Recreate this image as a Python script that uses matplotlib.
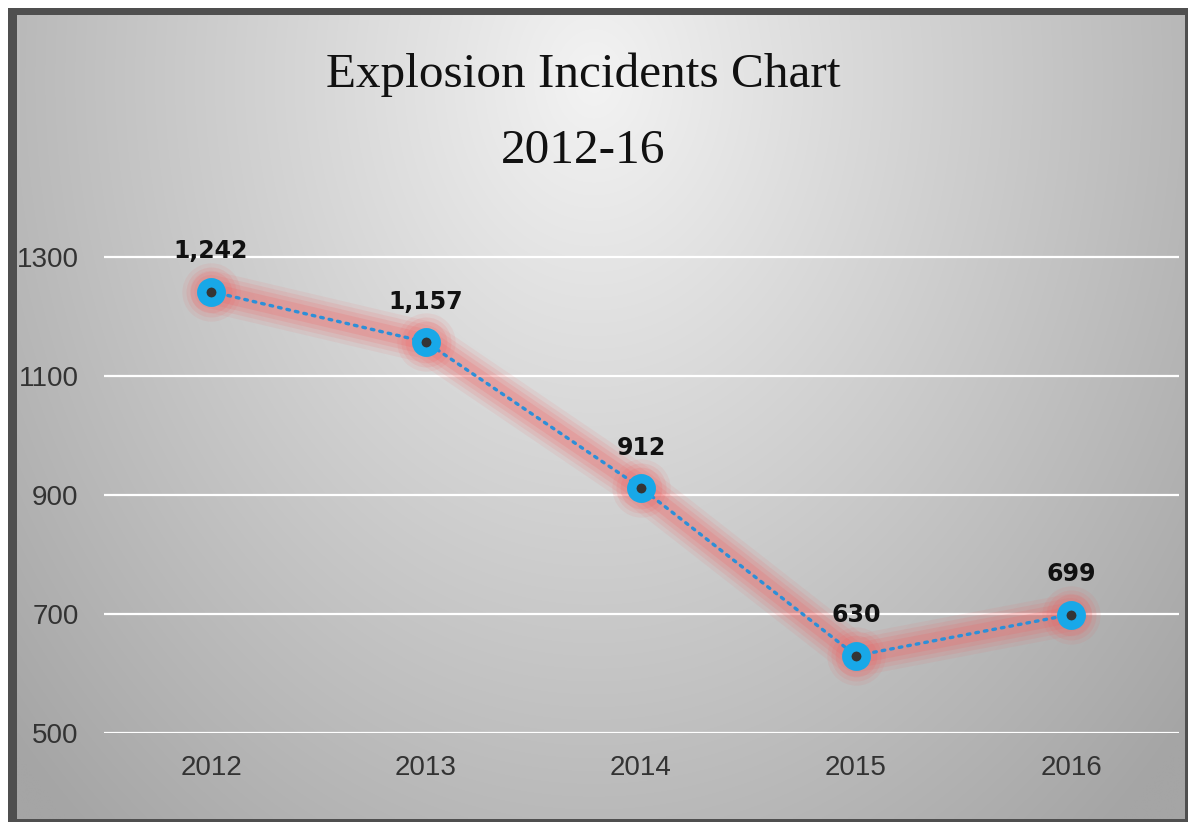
import numpy as np
import matplotlib

matplotlib.use("Agg")
import matplotlib.pyplot as plt
from matplotlib.patches import Rectangle

# chart data
years = ["2012", "2013", "2014", "2015", "2016"]
incidents = [1242, 1157, 912, 630, 699]
y_ticks = [500, 700, 900, 1100, 1300]
title_lines = ["Explosion Incidents Chart", "2012-16"]

W, H = 1188, 822
DPI = 100


def draw_background(fig):
    bg = fig.add_axes([0, 0, 1, 1], zorder=-5)
    # dark frame round the chart, with a little white outside it
    bg.add_patch(Rectangle((8, 8), W - 8, H - 8, facecolor="#4f4f4f",
                           edgecolor="none", zorder=0))

    # radial grey gradient, light near the title and darker to the edges
    x0, x1, y0, y1 = 17, 1185, 16, 819
    xs = np.linspace(x0, x1, 400)
    ys = np.linspace(y0, y1, 300)
    gx, gy = np.meshgrid(xs, ys)
    d = np.sqrt(((gx - 594) / 780.0) ** 2 + ((gy - 80) / 1000.0) ** 2)
    d = np.clip(d, 0, 1)
    val = (243 - 78 * d) / 255.0
    img = np.dstack([val, val, val])
    bg.imshow(img, extent=(x0, x1, y1, y0), aspect="auto",
              interpolation="bilinear", zorder=1)
    bg.set_xlim(0, W)
    bg.set_ylim(H, 0)
    bg.axis("off")


def main():
    fig = plt.figure(figsize=(W / DPI, H / DPI), dpi=DPI)
    draw_background(fig)

    ax = fig.add_axes([103.5 / W, 89 / H, 1075 / W, 535.5 / H])
    ax.set_facecolor("none")
    x = np.arange(len(years))

    ax.set_xlim(-0.5, len(years) - 0.5)
    ax.set_ylim(500, 1400)
    ax.set_yticks(y_ticks)
    ax.set_xticks(x)
    ax.set_xticklabels(years)
    for side in ax.spines.values():
        side.set_visible(False)
    ax.tick_params(length=0, labelsize=20)
    ax.tick_params(axis="y", pad=18)
    ax.tick_params(axis="x", pad=16)
    for lab in ax.get_xticklabels() + ax.get_yticklabels():
        lab.set_family("Liberation Sans")
        lab.set_color("#333333")
    ax.grid(axis="y", color="white", linewidth=1.6)
    ax.set_axisbelow(True)

    # soft red glow under the line
    for lw, a in [(30, 0.09), (24, 0.12), (18, 0.15), (12, 0.18)]:
        ax.plot(x, incidents, color="#f25c5c", linewidth=lw, alpha=a,
                solid_capstyle="round", solid_joinstyle="round", zorder=2)
    for ms, a in [(42, 0.09), (36, 0.12), (30, 0.15)]:
        ax.plot(x, incidents, linestyle="none", marker="o", markersize=ms,
                color="#f25c5c", alpha=a, markeredgewidth=0, zorder=2)

    ax.plot(x, incidents, color="#2d8fd8", linewidth=2.4, linestyle=(0, (0.8, 1.8)),
            dash_capstyle="round", zorder=3)
    ax.plot(x, incidents, linestyle="none", marker="o", markersize=14,
            markerfacecolor="#353535", markeredgecolor="#18a8e8",
            markeredgewidth=6.8, zorder=4)

    for xi, v in zip(x, incidents):
        ax.annotate(f"{v:,}", (xi, v), xytext=(0, 29), textcoords="offset points",
                    ha="center", va="center", fontsize=17, fontweight="bold",
                    family="DejaVu Sans", color="#111111", zorder=5)

    fig.text(583 / W, 1 - 87 / H, title_lines[0], ha="center", va="baseline",
             fontsize=35.5, family="Liberation Serif", color="#111111")
    fig.text(583 / W, 1 - 163 / H, title_lines[1], ha="center", va="baseline",
             fontsize=35.5, family="Liberation Serif", color="#111111")

    fig.savefig("out.png", dpi=DPI)
    plt.close(fig)


if __name__ == "__main__":
    main()
